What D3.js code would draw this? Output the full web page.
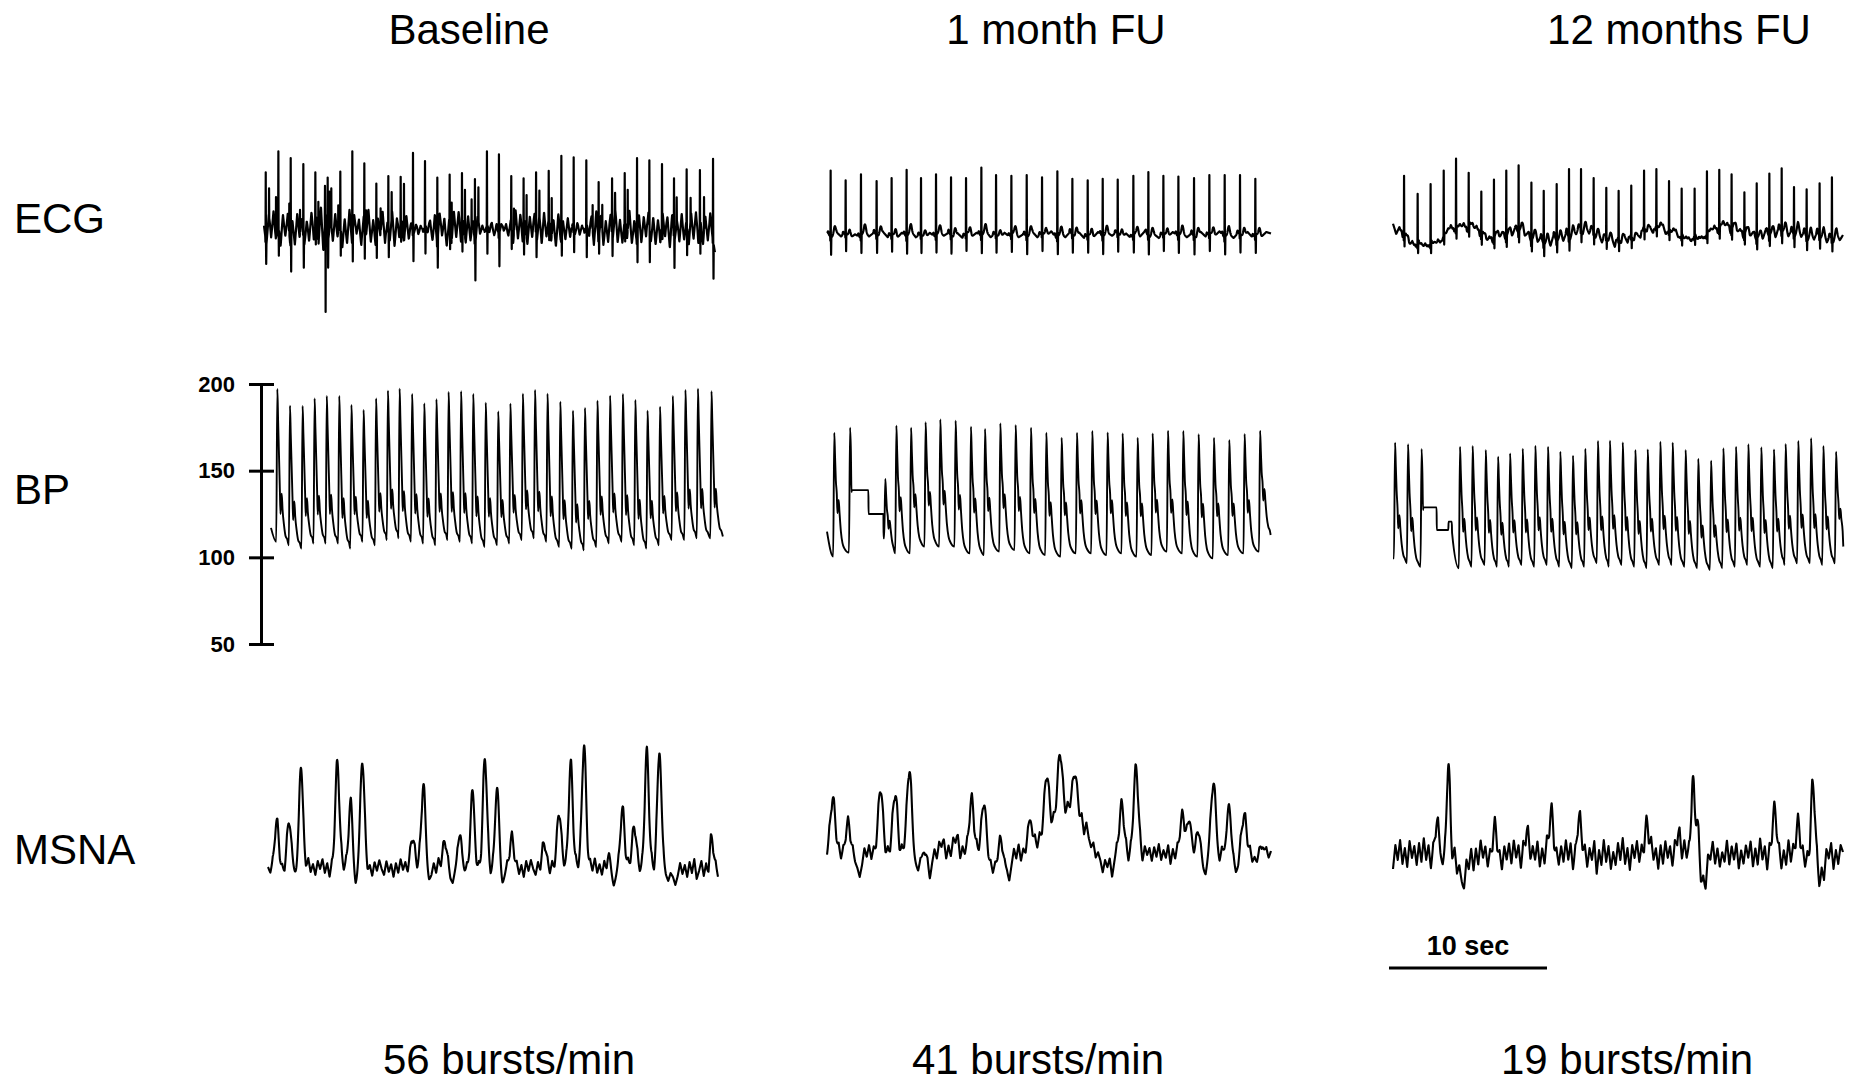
<!DOCTYPE html>
<html>
<head>
<meta charset="utf-8">
<script src="https://cdn.jsdelivr.net/npm/d3@7"></script>
<style>
  html, body { margin: 0; padding: 0; background: #fff; }
  svg { display: block; }
  text { font-family: "Liberation Sans", Arial, Helvetica, sans-serif; fill: #000; }
</style>
</head>
<body>
<svg id="chart" width="1859" height="1086"></svg>
<script>
// ---------- labels ----------
const titles = ["Baseline", "1 month FU", "12 months FU"];
const rowLabels = ["ECG", "BP", "MSNA"];
const burstRates = [56, 41, 19];
const bpTicks = [50, 100, 150, 200];
const scaleBarSeconds = 10;

// ---------- ECG (mV): R-peak times (s), R-peak levels, S depths, noise (0.01 mV) ----------
const ecgBaseTimes = [0.11,0.91,1.69,2.49,3.25,4.03,4.83,5.59,6.35,7.11,7.87,8.65,9.43,10.19,10.97,11.75,12.53,13.35,14.11,14.87,15.65,16.43,17.22,18.02,18.82,19.60,20.40,21.18,22.03,22.83,23.61,24.39,25.19,25.95,26.75,27.59,28.42];
const ecgBaseR = [0.77,1.05,0.96,0.88,0.77,0.70,0.78,1.05,0.89,0.62,0.72,0.71,1.03,0.92,0.70,0.74,0.76,0.68,1.05,1.01,0.72,0.69,0.77,0.79,0.99,0.97,0.93,0.64,0.69,0.76,0.96,0.93,0.88,0.69,0.81,0.80,0.95];
const ecgBaseS = [0.27,0.36,0.51,0.38,0.32,0.36,0.36,0.42,0.44,0.36,0.32,0.23,0.36,0.38,0.40,0.26,0.30,0.50,0.38,0.45,0.27,0.33,0.28,0.26,0.33,0.28,0.44,0.24,0.29,0.26,0.42,0.44,0.30,0.38,0.38,0.38,0.47];
const ecgBaseArtifacts = [[0.32,0.52],[0.76,0.41],[1.60,0.35],[2.28,0.26],[3.44,0.35],[3.86,0.56],[3.90,-1.11],[4.14,0.51],[4.26,0.51],[4.70,0.31],[6.46,0.26],[7.38,0.24],[8.08,0.47],[8.86,0.58],[11.88,0.36],[12.72,0.51],[13.14,0.40],[13.57,0.53],[15.82,0.27],[16.62,0.44],[17.43,0.49],[18.21,0.40],[20.80,0.33],[21.41,0.29],[22.22,0.47],[23.02,0.51],[26.12,0.42],[27.00,0.38],[27.85,0.39]];
const ecgBaseNoise = [5,-20,18,-12,25,-15,10,-22,16,-8,20,-18,12,-25,22,-10,15,-20,8,-16,24,-14,18,-22,30,-28,20,-15,12,-18,22,-12,16,-24,10,-18,25,-14,20,-10,14,-22,18,-8,22,-16,12,-20,15,-12,24,-18,10,-14,20,-22,16,-10,12,-20,18,-12,8,-6,5,-8,6,-4,7,-5,10,-14,18,-20,22,-12,16,-24,14,-18,20,-10,24,-16,12,-22,18,-14,10,-20,16,-8,6,-5,8,-4,6,-7,5,-6,7,-5,8,-10,14,-18,22,-12,20,-16,12,-24,18,-10,22,-14,16,-20,24,-12,18,-16,10,-22,20,-14,12,-18,16,-10,8,-6,5,-7,6,-5,8,-10,16,-20,22,-14,18,-24,12,-16,20,-10,24,-18,14,-20,16,-12,22,-18,10,-14,20,-22,18,-10,24,-16,12,-20,14,-18,22,-12,16,-24,20,-14,10,-18,22,-16,14,-20,18,-12,24,-18,10,-22,16,-14,20,-10,-30];

const ecg1mTimes = [0.23,1.18,2.15,3.14,4.09,5.04,5.95,6.90,7.85,8.80,9.77,10.70,11.67,12.64,13.61,14.58,15.53,16.50,17.45,18.40,19.39,20.34,21.29,22.24,23.23,24.20,25.17,26.14,27.11];
const ecg1mR = [0.86,0.73,0.81,0.72,0.76,0.87,0.76,0.81,0.77,0.76,0.90,0.80,0.79,0.80,0.77,0.85,0.75,0.73,0.75,0.74,0.79,0.84,0.79,0.78,0.76,0.80,0.80,0.80,0.75];
const ecg1mNoise = [2,-3,4,-2,3,-4,1,-3,5,-2,3,-1,4,-3,2,-4,3,-2,5,-3,1,-4,3,-2,4,-1,3,-3,2,-4,4,-2,3,-1,5,-3,2,-4,3,-2,4,-3,1,-2,4,-3,3,-1,5,-4,2,-3,4,-2,3,-4,1,-3,4,-2,3,-1,4,-3,2,-4,3,-2,5,-3,1,-4,3,-2,4,-1,3,-3,2,-4,4,-2,3,-1,5,-3,2,-4,3,-2,4,-3,1,-2,4,2];

const ecg12mTimes = [0.70,1.56,2.38,3.21,3.99,4.79,5.59,6.39,7.17,7.95,8.76,9.54,10.36,11.14,11.90,12.70,13.50,14.28,15.08,15.89,16.67,17.47,18.27,19.09,19.87,20.65,21.43,22.24,23.02,23.82,24.60,25.38,26.18,27.00,27.78];
const ecg12mR = [0.79,0.55,0.68,0.86,1.02,0.83,0.58,0.74,0.86,0.93,0.70,0.59,0.68,0.88,0.88,0.76,0.63,0.59,0.66,0.86,0.88,0.72,0.62,0.62,0.85,0.87,0.81,0.57,0.69,0.82,0.89,0.64,0.61,0.69,0.77];
const ecg12mWander = [0.11,-0.07,-0.22,-0.07,0.13,0.13,-0.09,-0.02,0.11,-0.07,-0.09,-0.02,0.11,-0.02,-0.09,-0.09,0.07,0.11,-0.02,-0.09,0,0.16,0.04,-0.04,0.04,0.07,-0.02,-0.02,-0.04];
const ecg12mNoise = [4,-6,7,-3,5,-8,2,-5,8,-4,6,-2,7,-6,3,-7,5,-3,8,-5,2,-6,4,-8,6,-3,7,-4,5,-7,3,-5,8,-2,6,-6,4,-7,5,-3,7,-5,2,-8,6,-4,5,-6,3,-7,8,-3,4,-5,6,-8,2,-4,7,-6,5,-3,8,-5,3,-7,6,-2,4,-8,5,-4,7,-3,6,-6,2,-5,8,-4,3,-7,5,-2,6,-8,4,-3,7,-5,5,-6,3,-4,8,-7,2,-5,6,-3,7,-6,4,-2,5,-8,6,-4,3,-7,8,-3,5,-5,2,-6,7,-4,4,-8,6,-2,5,-7,3,-5,8,-3,6,-6,4,-4,7,-2,5,-7,3,-6,6,-3,4];

// ---------- BP (mmHg): beat peak times (s), systolic peaks, diastolic feet, calibration steps ----------
const bpBaseTimes = [0.40,1.20,2.00,2.76,3.53,4.32,5.09,5.86,6.65,7.40,8.14,8.93,9.70,10.47,11.24,12.03,12.80,13.59,14.38,15.15,15.94,16.71,17.50,18.31,19.11,19.87,20.66,21.46,22.27,23.06,23.83,24.62,25.43,26.23,27.02,27.88];
const bpBaseSys = [197.1,187.5,187.3,191.7,193.1,193.1,187.9,185.0,191.7,196.2,197.3,194.2,188.8,191.2,195.4,195.8,194.2,189.2,184.2,188.7,194.4,196.5,194.4,189.8,184.6,186.2,190.4,193.3,194.2,190.8,184.6,186.9,193.1,196.5,197.3,195.8];
const bpBaseDia = [109,107,105,108,108,108,105,109,107,110,111,109,108,107,110,109,108,106,107,108,110,111,109,106,105,104,106,108,109,107,105,107,110,110,111,111];

const bp1mTimes = [0.46,1.46,3.69,4.39,5.32,6.24,7.17,8.14,9.11,10.00,10.97,11.94,12.91,13.88,14.85,15.82,16.79,17.76,18.71,19.66,20.61,21.58,22.55,23.52,24.49,25.46,26.43,27.41];
const bp1mSys = [171.9,174.8,145.2,176.0,174.8,177.9,179.6,178.8,175.4,174.0,177.3,176.3,174.8,171.9,169.0,171.9,172.9,172.1,171.5,169.0,171.5,173.1,172.9,171.0,169.0,167.7,171.2,173.1];
const bp1mDia = [100.4,102.7,111,102.3,102.3,106.2,106.2,106.2,102.3,101.3,103.3,104.2,102.3,101.3,100.4,102.3,102.3,101.3,102.3,100.4,101.3,103.3,102.3,100.4,99.4,101.3,102.3,103.3];
const bp1mCal = [[1.55,137.7],[1.57,138.8],[2.62,138.8],[2.63,125],[3.57,125],[3.58,111]];

const bp12mTimes = [0.13,0.95,1.81,4.24,5.04,5.87,6.65,7.41,8.21,9.01,9.81,10.59,11.39,12.17,12.97,13.73,14.54,15.34,16.12,16.92,17.70,18.52,19.32,20.13,20.91,21.71,22.49,23.31,24.11,24.85,25.65,26.46,27.24,28.04];
const bp12mSys = [166.2,165.2,162.5,163.8,164.2,161.9,158.1,160.0,162.7,164.4,163.8,161.0,158.7,162.7,167.1,167.3,166.3,161.9,162.3,166.7,166.2,161.9,156.9,155.8,162.9,163.8,165.2,163.5,162.3,165.4,167.1,168.7,164.2,161.0];
const bp12mDia = [99.4,96.5,94.6,93.7,94.6,95.6,94.6,94.6,95.6,94.6,95.6,94.6,93.7,94.6,96.5,94.6,95.6,94.6,93.7,95.6,95.6,94.6,93.7,92.7,93.7,94.6,95.6,94.6,93.7,95.6,96.5,96.5,95.6,96.5];
const bp12mCal = [[1.90,127.3],[1.92,128.8],[2.76,128.8],[2.77,115.8],[3.50,115.8],[3.52,120.6],[3.72,120.6],[3.74,114]];

// ---------- MSNA (a.u.): bursts [time s, amplitude, width s], background activity ----------
const msnaBaseBursts = [[0.55,43],[1.33,44],[2.07,107],[4.39,103],[5.23,67],[5.97,105],[9.14,33],[9.83,85],[11.20,28],[12.19,43],[12.95,73],[13.73,106],[14.51,89],[15.42,28],[17.49,21],[18.42,58],[19.16,105],[20.00,126],[21.58,20],[22.43,57],[23.19,43],[23.97,116],[24.77,124],[28.08,30]];
const msnaBaseNoise = [0,-6,4,-3,8,-5,2,-8,6,-2,5,-4,-12,-18,-6,7,-3,9,-5,3,-8,6,-2,8,-6,4,-10,5,-3,7,-5,9,-4,6,-8,3,-12,-20,-6,4,-3,8,-6,2,-9,5,-4,7,-2,-8,6,-5,3,-10,4,-6,8,-3,5,-7,2,-9,6,-4,8,-11,3,-5,-14,-8,4,-6,9,-3,5,-8,2,-12,-16,-4,6,-9,-18,-10,3,-5,7,-2,-8,4,-6,8,-3,5,-9,2,-6,-11,-15,-19,-8,4,-6,8,-3,5,-7,2,-10,6,-4,7,-2,-8,5,-6,9,-3,4,-7,6,-5,3,-9,7,-2,5,-8,4,-6,8,-3,6,-10,2,-5,7,-4,9,-6,3,-8,5,-12,-6,-14,-20,-9,3,-5,7,-4,8,-2,6,-9,4,-6,2,-10,5,-3,8,-7,4,-12,-6,3,-8,-14,-6,-10,-18,-9,4,-7,2,-10,5,-6,8,-12,-4,6,-9,3,-14,5,-8,2,-10];

const msna1mBursts = [[0.36,58],[1.35,28],[3.40,64],[4.32,60],[5.21,87],[6.20,20],[7.32,10],[8.21,17],[9.16,56],[9.94,58],[11.01,28],[12.89,31],[13.90,60],[14.75,60],[15.70,38],[15.30,45,1.1],[18.65,46],[19.56,83],[22.51,39],[22.97,34],[23.50,34],[24.45,70],[25.44,57],[26.39,37],[27.51,22]];
const msna1mNoise = [-5,6,-10,4,-3,8,-6,5,-2,9,-7,3,-9,-15,-24,-12,5,-4,8,-6,6,-3,9,-5,2,-8,6,-4,10,-6,4,-9,7,-2,6,-10,3,-7,-12,-18,-8,-14,-22,-16,-28,-10,4,-6,8,-3,5,-9,7,-4,10,-5,3,-11,6,-2,8,-6,4,-10,7,-3,5,-12,-6,-14,-8,-20,-10,-16,-8,-22,-14,-18,-28,-12,4,-6,8,-9,3,-5,7,-2,-10,6,-4,9,-3,5,-8,6,-5,8,-2,7,-6,4,-9,6,-3,8,-5,2,-7,5,-12,4,-8,-14,-6,-18,-10,-16,-26,-12,-18,-8,-26,-10,4,-6,8,-4,6,-9,5,-3,8,-6,4,-10,7,-2,5,-8,6,-4,9,-7,3,-5,8,-11,4,-6,7,-3,5,-9,6,-2,-8,-14,-6,-16,-10,-18,-22,-8,4,-6,7,-3,-10,6,-4,-12,-8,-16,-10,-20,-14,4,-6,8,-3,6,-9,-4,-12,-8,-18,-10,3,-5,2];

const msna12mBursts = [[2.76,30],[3.50,87,0.1],[4.45,-25,0.25],[6.46,25],[8.46,30],[10.04,42],[11.77,35],[16.06,35],[18.02,27],[18.97,79,0.1],[19.25,35,0.1],[19.64,-25,0.2],[24.14,42],[25.65,28],[26.54,64,0.11],[26.70,25,0.08],[27.03,-22,0.2]];
const msna12mNoise = [-14,10,-5,15,-9,7,-12,14,-3,9,-10,12,-7,17,-5,10,-14,5,-9,14,-3,-10,7,-5,17,-7,10,-12,5,-3,-9,14,-5,10,-15,7,-10,15,-3,9,-12,5,-7,14,-10,3,-15,9,-5,12,-9,15,-3,10,-14,7,-17,5,-10,9,-5,14,-12,7,-9,17,-3,10,-14,5,-10,9,-7,15,-5,12,-15,3,-9,14,-3,10,-12,7,-5,14,-19,5,-10,15,-7,9,-14,3,-10,12,-5,17,-9,7,-15,10,-3,14,-7,9,-12,5,-10,15,-5,7,-14,10,-9,14,-3,9,-12,5,-17,10,-7,15,-3,9,-14,7,-5,12,-10,5,-15,9,-3,14,-9,7,-12,3,-7,15,-10,9,-5,12,-14,5,-9,10,-3,14,-12,7,-10,17,-5,9,-15,10,-7,12,-3,9,-14,5,-10,15,-7,10,-5,14,-9,7,-12,3,-17,10,-5,14,-10,7,-15,9,-3,12,-14,5,-9,10,3];

// ---------- layout ----------
const W = 1859, H = 1086;
const PX_PER_SEC = 15.8;
const FONT_MAIN = 42;
const columns = [
  { title: 469,  rate: 509,  ecg: { x0: 264,  y0: 230 }, bp: { x0: 271 },  msna: { x0: 268,  y0: 867 } },
  { title: 1056, rate: 1038, ecg: { x0: 827,  y0: 235 }, bp: { x0: 827 },  msna: { x0: 827,  y0: 853 } },
  { title: 1679, rate: 1627, ecg: { x0: 1393, y0: 235 }, bp: { x0: 1393 }, msna: { x0: 1393, y0: 855 } }
];
const rowLabelY = [233, 504, 864];

const ecgPanels = [
  { times: ecgBaseTimes, r: ecgBaseR, s: ecgBaseS, noise: ecgBaseNoise, extra: ecgBaseArtifacts, dur: 28.54, tw: 0.05, pw: 0.03 },
  { times: ecg1mTimes, r: ecg1mR, s: 0.24, noise: ecg1mNoise, dur: 28.10, tw: 0.10, pw: 0.04 },
  { times: ecg12mTimes, r: ecg12mR, s: 0.15, noise: ecg12mNoise, wander: ecg12mWander, dur: 28.48, tw: 0.08, pw: 0.04 }
];
const bpPanels = [
  { times: bpBaseTimes, sys: bpBaseSys, dia: bpBaseDia, cal: [], start: 117, end: 112, dur: 28.6, notch: 0.20, bump: 0.33 },
  { times: bp1mTimes, sys: bp1mSys, dia: bp1mDia, cal: bp1mCal, start: 114.8, end: 112.9, dur: 28.08, notch: 0.33, bump: 0.44 },
  { times: bp12mTimes, sys: bp12mSys, dia: bp12mDia, cal: bp12mCal, start: 99.4, end: 106.2, dur: 28.50, notch: 0.29, bump: 0.40 }
];
const msnaPanels = [
  { bursts: msnaBaseBursts, noise: msnaBaseNoise, dur: 28.48, width: 0.13 },
  { bursts: msna1mBursts, noise: msna1mNoise, dur: 28.10, width: 0.15 },
  { bursts: msna12mBursts, noise: msna12mNoise, dur: 28.48, width: 0.13 }
];

// ---------- waveform helpers ----------
const tri = (x, hw) => Math.max(0, 1 - Math.abs(x) / hw);
const gauss = (x, s) => Math.exp(-(x * x) / (2 * s * s));
function lerpSeries(arr, dur, t) {
  const u = Math.max(0, Math.min(1, t / dur)) * (arr.length - 1);
  const i = Math.min(arr.length - 2, Math.floor(u));
  return arr[i] + (arr[i + 1] - arr[i]) * (u - i);
}

function buildEcg(p) {
  const wanderFn = p.wander ? d3.interpolateBasis(p.wander) : null;
  const base = t => (wanderFn ? wanderFn(Math.min(1, t / (p.wander.length - 1))) : 0) + lerpSeries(p.noise, p.dur, t) * 0.01;
  let ts = d3.range(0, p.dur, 0.01).concat([p.dur]);
  p.times.forEach(tr => [-0.035, -0.02, -0.014, 0, 0.014, 0.03, 0.045].forEach(o => ts.push(tr + o)));
  (p.extra || []).forEach(([te]) => [-0.012, 0, 0.012].forEach(o => ts.push(te + o)));
  ts = Array.from(new Set(ts.filter(t => t >= 0 && t <= p.dur).map(t => +t.toFixed(4)))).sort((a, b) => a - b);
  const sArr = Array.isArray(p.s) ? p.s : p.times.map(() => p.s);
  const beats = p.times.map((tr, i) => ({ tr, a: p.r[i] - base(tr), s: sArr[i] }));
  const spikes = (p.extra || []).map(([te, v]) => ({ te, a: v - base(te) }));
  return ts.map(t => {
    let v = base(t);
    for (const b of beats) {
      const dt = t - b.tr;
      if (dt < -0.4 || dt > 0.6) continue;
      v += b.a * tri(dt, 0.014) - b.s * tri(dt - 0.03, 0.015) - 0.06 * tri(dt + 0.02, 0.012)
        + p.tw * gauss(dt - 0.26, 0.06) + p.pw * gauss(dt + 0.16, 0.03);
    }
    for (const sp of spikes) v += sp.a * tri(t - sp.te, 0.012);
    return [t, v];
  });
}

function buildBp(p) {
  // decay after each systolic peak, as a fraction of (peak - next foot)
  const shape = [[0.05, 0.80], [0.10, 0.60], [0.16, p.notch + 0.16], [0.20, p.notch], [0.23, p.bump - 0.05],
                 [0.28, p.bump], [0.33, p.bump - 0.10], [0.42, p.bump * 0.4], [0.52, p.bump * 0.18], [0.62, 0.04]];
  const pts = [[0, p.start]];
  const n = p.times.length;
  for (let i = 0; i < n; i++) {
    const tp = p.times[i], s = p.sys[i];
    pts.push([tp - 0.07, p.dia[i]]);
    pts.push([tp, s]);
    const nextFoot = i + 1 < n ? p.times[i + 1] - 0.07 : p.dur;
    const floor = i + 1 < n ? p.dia[i + 1] : p.end;
    const calHere = p.cal.length && p.cal[0][0] > tp && p.cal[0][0] < nextFoot;
    const stop = calHere ? p.cal[0][0] : nextFoot;
    for (const [tau, k] of shape) {
      if (tp + tau >= stop - 0.02) break;
      pts.push([tp + tau, floor + k * (s - floor)]);
    }
    if (calHere) p.cal.forEach(c => pts.push(c));
  }
  pts.push([p.dur, p.end]);
  return pts;
}

function buildMsna(p) {
  const ts = d3.range(0, p.dur, 0.01).concat([p.dur]);
  const bursts = p.bursts.map(([tb, a, w]) => ({ tb, a, w: w || p.width }));
  return ts.map(t => {
    let v = lerpSeries(p.noise, p.dur, t);
    for (const b of bursts) v += b.a * gauss(t - b.tb, b.w);
    return [t, v];
  });
}

// ---------- drawing ----------
const svg = d3.select("#chart");
svg.append("rect").attr("width", W).attr("height", H).attr("fill", "#fff");

const bpY = d3.scaleLinear().domain([50, 200]).range([644, 384]);

columns.forEach((col, c) => {
  svg.append("text").attr("x", col.title).attr("y", 44).attr("text-anchor", "middle")
    .attr("font-size", FONT_MAIN).text(titles[c]);
  svg.append("text").attr("x", col.rate).attr("y", 1074).attr("text-anchor", "middle")
    .attr("font-size", FONT_MAIN).text(`${burstRates[c]} bursts/min`);

  // ECG
  const ep = ecgPanels[c];
  const ex = d3.scaleLinear().domain([0, ep.dur]).range([col.ecg.x0, col.ecg.x0 + ep.dur * PX_PER_SEC]);
  const ey = d3.scaleLinear().domain([0, 1]).range([col.ecg.y0, col.ecg.y0 - 75]);
  svg.append("path").datum(buildEcg(ep))
    .attr("d", d3.line().x(d => ex(d[0])).y(d => ey(d[1])))
    .attr("fill", "none").attr("stroke", "#000").attr("stroke-width", 2.2).attr("stroke-linejoin", "round");

  // BP
  const bp = bpPanels[c];
  const bx = d3.scaleLinear().domain([0, bp.dur]).range([col.bp.x0, col.bp.x0 + bp.dur * PX_PER_SEC]);
  svg.append("path").datum(buildBp(bp))
    .attr("d", d3.line().x(d => bx(d[0])).y(d => bpY(d[1])).curve(d3.curveMonotoneX))
    .attr("fill", "none").attr("stroke", "#000").attr("stroke-width", 1.9).attr("stroke-linejoin", "round");

  // MSNA
  const mp = msnaPanels[c];
  const mx = d3.scaleLinear().domain([0, mp.dur]).range([col.msna.x0, col.msna.x0 + mp.dur * PX_PER_SEC]);
  const my = d3.scaleLinear().domain([0, 100]).range([col.msna.y0, col.msna.y0 - 100]);
  svg.append("path").datum(buildMsna(mp))
    .attr("d", d3.line().x(d => mx(d[0])).y(d => my(d[1])))
    .attr("fill", "none").attr("stroke", "#000").attr("stroke-width", 2.1).attr("stroke-linejoin", "round");
});

// row labels
rowLabels.forEach((lab, i) => {
  svg.append("text").attr("x", 14).attr("y", rowLabelY[i]).attr("font-size", FONT_MAIN).text(lab);
});

// BP axis (mmHg)
const axisG = svg.append("g").attr("transform", "translate(261,0)")
  .call(d3.axisLeft(bpY).tickValues(bpTicks).tickSizeOuter(0).tickSizeInner(12).tickPadding(14));
axisG.select(".domain").attr("stroke", "#000").attr("stroke-width", 3);
axisG.selectAll(".tick line").attr("x1", 13).attr("stroke", "#000").attr("stroke-width", 3);
axisG.selectAll(".tick text").attr("font-size", 22).attr("font-weight", "bold")
  .attr("font-family", "'Liberation Sans', Arial, Helvetica, sans-serif").attr("fill", "#000");

// time scale bar
const sbX = d3.scaleLinear().domain([0, scaleBarSeconds]).range([1389, 1389 + scaleBarSeconds * PX_PER_SEC]);
svg.append("line").attr("x1", sbX(0)).attr("x2", sbX(scaleBarSeconds)).attr("y1", 968).attr("y2", 968)
  .attr("stroke", "#000").attr("stroke-width", 3);
svg.append("text").attr("x", sbX(scaleBarSeconds / 2)).attr("y", 955).attr("text-anchor", "middle")
  .attr("font-size", 27).attr("font-weight", "bold").text(`${scaleBarSeconds} sec`);
</script>
</body>
</html>
